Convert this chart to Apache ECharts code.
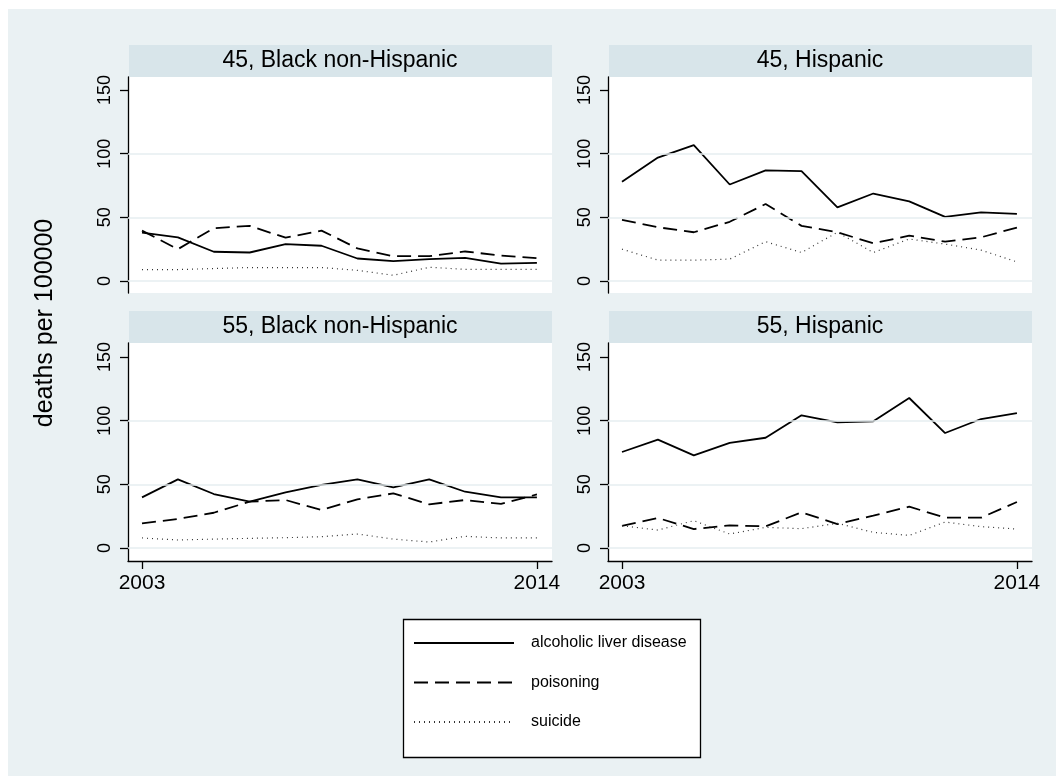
<!DOCTYPE html>
<html>
<head>
<meta charset="utf-8">
<script src="https://cdn.jsdelivr.net/npm/echarts@6/dist/echarts.min.js"></script>
<style>
html,body{margin:0;padding:0;background:#fff;}
#c{width:1056px;height:776px;}
</style>
</head>
<body>
<div id="c"></div>
<script>
// ---- data ----
const years = [2003,2004,2005,2006,2007,2008,2009,2010,2011,2012,2013,2014];
const xTickLabels = [2003, 2014];
const yTickLabels = [0, 50, 100, 150];
const gridValues = [0, 50, 100];
const causes = ['alcoholic liver disease', 'poisoning', 'suicide'];
const panelTitles = ['45, Black non-Hispanic', '45, Hispanic', '55, Black non-Hispanic', '55, Hispanic'];

const bnh45_alcohol = [38, 34.3, 23, 22.4, 29, 27.7, 17.7, 15.6, 17.2, 18.2, 13.7, 14.3];
const bnh45_poison  = [39.6, 25, 41.5, 43.3, 34, 39.6, 25.6, 19.5, 19.5, 23.2, 20, 18];
const bnh45_suicide = [9, 9, 9.8, 10.6, 10.6, 10.6, 8.4, 4.5, 10.8, 9.2, 9.2, 9.2];

const hisp45_alcohol = [77.9, 96.9, 106.7, 75.8, 86.9, 86.3, 57.8, 68.7, 62.6, 50.4, 53.9, 52.8];
const hisp45_poison  = [48, 42.2, 38.3, 46.5, 60.5, 43.3, 38.3, 29.6, 35.6, 30.9, 34.3, 42];
const hisp45_suicide = [25, 16.4, 16.4, 17.2, 30.9, 22.4, 38.3, 22.4, 33, 29, 24.3, 15];

const bnh55_alcohol = [39.8, 53.9, 42.4, 36.4, 43.7, 49.5, 53.9, 47.6, 53.9, 44.2, 39.8, 39.8];
const bnh55_poison  = [19.4, 22.8, 27.7, 36.4, 37.7, 29.8, 38.2, 42.9, 34.3, 37.7, 34.6, 42.1];
const bnh55_suicide = [7.9, 6.3, 7, 7.6, 8.1, 8.9, 11, 7, 4.7, 9.2, 7.9, 7.9];

const hisp55_alcohol = [75.4, 85.1, 72.8, 82.5, 86.6, 104.2, 98.7, 99.5, 117.8, 90.3, 101.3, 106];
const hisp55_poison  = [17.3, 23.6, 14.9, 17.8, 17, 28, 18.8, 25.4, 32.5, 23.8, 23.8, 36.1];
const hisp55_suicide = [17.5, 14.1, 21.5, 11, 16.2, 15.2, 19.4, 12.3, 9.9, 20.4, 16.8, 14.9];

const panelData = [
  [bnh45_alcohol, bnh45_poison, bnh45_suicide],
  [hisp45_alcohol, hisp45_poison, hisp45_suicide],
  [bnh55_alcohol, bnh55_poison, bnh55_suicide],
  [hisp55_alcohol, hisp55_poison, hisp55_suicide]
];

// ---- layout / styles ----
const FONT = "'Liberation Sans', Arial, Helvetica, sans-serif";
const BG = '#eaf1f3';
const STRIP = '#d8e5ea';
const GRIDC = '#e6eef1';
const panels = [
  {left:128, top:77,  width:424, height:216, ymin:-9.4,  ymax:160.2, bottom:false},
  {left:608, top:77,  width:424, height:216, ymin:-9.4,  ymax:160.2, bottom:false},
  {left:128, top:343, width:424, height:218, ymin:-10.2, ymax:161,   bottom:true},
  {left:608, top:343, width:424, height:218, ymin:-10.2, ymax:161,   bottom:true}
];
const lineStyles = [
  {color:'#000', width:1.8, type:'solid'},
  {color:'#000', width:1.8, type:[14,7]},
  {color:'#333', width:1.2, type:[1,4]}
];

const grid = [], xAxis = [], yAxis = [], series = [], graphics = [];

graphics.push({type:'rect', shape:{x:8, y:9, width:1048, height:767}, style:{fill:BG}, z:-10});

panels.forEach((p, i) => {
  grid.push({left:p.left, top:p.top, width:p.width, height:p.height, show:true, backgroundColor:'#fff', borderWidth:0});
  xAxis.push({
    type:'value', gridIndex:i, min:2002.61, max:2014.42, show:p.bottom,
    axisLine:{show:true, onZero:false, lineStyle:{color:'#000', width:1.3}},
    axisTick:{show:true, length:8, lineStyle:{color:'#000', width:1.3}, customValues:xTickLabels},
    axisLabel:{show:true, customValues:xTickLabels, formatter:v=>String(v), fontSize:21, fontFamily:FONT, color:'#000', margin:12},
    splitLine:{show:false}
  });
  yAxis.push({
    type:'value', gridIndex:i, min:p.ymin, max:p.ymax,
    axisLine:{show:true, onZero:false, lineStyle:{color:'#000', width:1.3}},
    axisTick:{show:true, length:8, lineStyle:{color:'#000', width:1.3}, customValues:yTickLabels},
    axisLabel:{show:true, customValues:yTickLabels, rotate:90, fontSize:18, fontFamily:FONT, color:'#000', margin:14},
    splitLine:{show:false}
  });
  series.push({
    type:'line', xAxisIndex:i, yAxisIndex:i, data:[], z:1, silent:true,
    markLine:{silent:true, symbol:['none','none'], label:{show:false},
      lineStyle:{color:GRIDC, type:'solid', width:1.6},
      data: gridValues.map(v => ({yAxis:v}))}
  });
  panelData[i].forEach((vals, k) => {
    series.push({
      name:causes[k], type:'line', xAxisIndex:i, yAxisIndex:i, z:3,
      symbol:'none', showSymbol:false, color:lineStyles[k].color,
      itemStyle:{color:lineStyles[k].color, opacity:0},
      data: years.map((y, j) => [y, vals[j]]),
      lineStyle: lineStyles[k]
    });
  });
  graphics.push({type:'rect', shape:{x:p.left+1, y:p.top-32, width:p.width-1, height:32}, style:{fill:STRIP}, z:-5});
  graphics.push({type:'text', x:p.left + p.width/2, y:p.top-16,
    style:{text:panelTitles[i], fill:'#000', font:'23px ' + FONT, textAlign:'center', textVerticalAlign:'middle'}});
});

// y-axis title
graphics.push({type:'text', x:45, y:323, rotation:Math.PI/2,
  style:{text:'deaths per 100000', fill:'#000', font:'25px ' + FONT, textAlign:'center', textVerticalAlign:'middle'}});
// legend box
graphics.push({type:'rect', shape:{x:403.5, y:619.5, width:297, height:138}, style:{fill:'#fff', stroke:'#000', lineWidth:1.3}, z:-4});

const option = {
  animation:false,
  grid, xAxis, yAxis, series,
  graphic: graphics,
  legend:{
    data: causes, orient:'vertical', left:413, top:635, padding:0,
    itemWidth:100, itemHeight:14, itemGap:23.5, selectedMode:false,
    itemStyle:{opacity:0},
    textStyle:{fontSize:16, fontFamily:FONT, color:'#000', padding:[0,0,0,12]}
  }
};

const chart = echarts.init(document.getElementById('c'), null, {renderer:'canvas'});
chart.setOption(option);
</script>
</body>
</html>
